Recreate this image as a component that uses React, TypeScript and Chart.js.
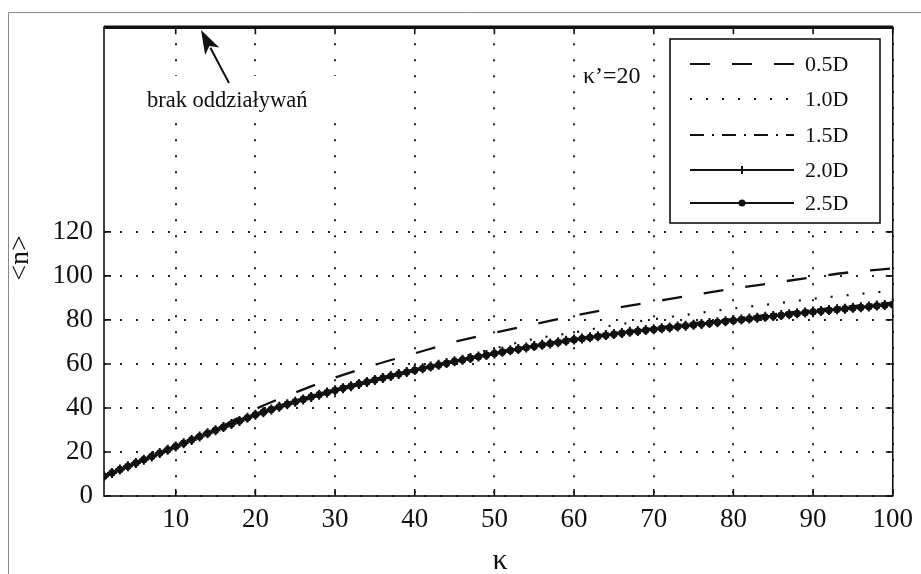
import React, { useEffect, useRef } from "react";
import { Chart, registerables } from "chart.js";
Chart.register(...registerables);

// ---- data ----
const KAPPA_DENSE: number[] = Array.from({ length: 100 }, (_, i) => i + 1);
const KAPPA_SPARSE = [1, 5, 10, 15, 20, 25, 30, 35, 40, 45, 50, 55, 60, 65, 70, 75, 80, 85, 90, 95, 100];

const N_05D = [9, 15, 22.5, 30.2, 39.5, 47, 53.8, 59.6, 64.8, 70, 74.2, 78, 81.9, 85.3, 88.3, 91.3, 94.2, 96.8, 99.4, 101.8, 103.4];
const N_10D = [9, 15, 22.5, 29.8, 37.2, 43.3, 48.6, 53.5, 58, 62.5, 67, 71.4, 74.3, 77.6, 80.3, 82.8, 85.2, 87.3, 89.6, 91.5, 93.3];
const N_15D = [9, 15, 22.5, 29.9, 37.0, 43.0, 48.3, 53.0, 57.5, 61.5, 65.2, 68.5, 71.6, 74.1, 76.4, 78.6, 80.6, 82.7, 84.6, 86.4, 88.0];

const N_20D = [
  9.0, 10.5, 12.0, 13.5, 15.0, 16.5, 18.0, 19.5, 21.0, 22.5,
  24.0, 25.5, 27.0, 28.5, 29.9, 31.3, 32.7, 34.1, 35.5, 36.9,
  38.1, 39.3, 40.5, 41.7, 42.8, 43.9, 45.0, 46.0, 47.0, 48.0,
  49.0, 49.9, 50.9, 51.8, 52.7, 53.6, 54.5, 55.4, 56.3, 57.2,
  58.0, 58.8, 59.6, 60.4, 61.2, 61.9, 62.7, 63.4, 64.1, 64.8,
  65.5, 66.2, 66.8, 67.5, 68.1, 68.7, 69.3, 69.9, 70.5, 71.1,
  71.6, 72.1, 72.6, 73.1, 73.6, 74.1, 74.6, 75.0, 75.4, 75.8,
  76.2, 76.6, 77.0, 77.4, 77.8, 78.2, 78.6, 79.0, 79.4, 79.8,
  80.2, 80.6, 81.0, 81.4, 81.8, 82.2, 82.6, 83.0, 83.4, 83.8,
  84.1, 84.5, 84.8, 85.1, 85.5, 85.8, 86.1, 86.5, 86.8, 87.1,
];
const N_25D = [
  9.0, 10.5, 12.0, 13.5, 15.0, 16.5, 18.0, 19.5, 21.0, 22.5,
  24.0, 25.5, 27.0, 28.5, 29.9, 31.3, 32.7, 34.1, 35.5, 36.9,
  38.1, 39.3, 40.5, 41.7, 42.8, 43.9, 45.0, 46.0, 47.0, 48.0,
  49.0, 49.9, 50.9, 51.8, 52.7, 53.6, 54.5, 55.4, 56.3, 57.1,
  57.9, 58.7, 59.5, 60.3, 61.1, 61.8, 62.6, 63.3, 64.0, 64.7,
  65.4, 66.1, 66.7, 67.4, 68.0, 68.6, 69.2, 69.8, 70.4, 71.0,
  71.5, 72.0, 72.5, 73.0, 73.5, 74.0, 74.5, 74.9, 75.3, 75.7,
  76.1, 76.5, 76.9, 77.3, 77.7, 78.1, 78.5, 78.9, 79.3, 79.7,
  80.1, 80.5, 80.9, 81.3, 81.7, 82.1, 82.5, 82.9, 83.3, 83.7,
  84.0, 84.4, 84.7, 85.0, 85.4, 85.7, 86.0, 86.4, 86.7, 87.0,
];

const KAPPA_LIMITS = [1, 100];
const N_NO_INTERACTION = [213, 213];

const X_TICKS = [10, 20, 30, 40, 50, 60, 70, 80, 90, 100];
const Y_TICKS = [0, 20, 40, 60, 80, 100, 120];
const Y_MIN = 0;
const Y_MAX = 213;

const SERIES_LABELS = ["0.5D", "1.0D", "1.5D", "2.0D", "2.5D"];
const ANNOT_NO_INT = "brak oddziaływań";
const ANNOT_K = "κ’=20";
const X_TITLE = "κ";
const Y_TITLE = "<n>";

const SERIF = "'Liberation Serif', 'Times New Roman', serif";
const INK = "#111";

const pts = (xs: number[], ys: number[]) => xs.map((x, i) => ({ x, y: ys[i] }));

const DASHES: number[][] = [[20, 22], [2, 14], [14, 8, 2, 8], [], []];

const overlayPlugin = {
  id: "overlay",
  beforeDatasetsDraw(chart: any) {
    const { ctx } = chart;
    ctx.save();
    ctx.fillStyle = "#fff";
    ctx.fillRect(140, 76, 205, 41);
    ctx.restore();
  },
  afterDraw(chart: any) {
    const { ctx, chartArea: a, scales } = chart;
    const xs = scales.x;
    const ys = scales.y;
    ctx.save();
    // outer frame
    ctx.strokeStyle = "#8a8a8a";
    ctx.lineWidth = 1;
    ctx.setLineDash([]);
    ctx.beginPath();
    ctx.moveTo(8.5, 574);
    ctx.lineTo(8.5, 12.5);
    ctx.lineTo(921, 12.5);
    ctx.stroke();

    // axes box
    ctx.strokeStyle = INK;
    ctx.lineWidth = 1.6;
    ctx.strokeRect(a.left, a.top, a.right - a.left, a.bottom - a.top);

    // inward ticks
    ctx.beginPath();
    X_TICKS.forEach((v) => {
      const px = xs.getPixelForValue(v);
      ctx.moveTo(px, a.bottom);
      ctx.lineTo(px, a.bottom - 7);
      ctx.moveTo(px, a.top);
      ctx.lineTo(px, a.top + 7);
    });
    Y_TICKS.forEach((v) => {
      const py = ys.getPixelForValue(v);
      ctx.moveTo(a.left, py);
      ctx.lineTo(a.left + 7, py);
      ctx.moveTo(a.right, py);
      ctx.lineTo(a.right - 7, py);
    });
    ctx.stroke();

    // axis titles
    ctx.fillStyle = INK;
    ctx.font = `28px ${SERIF}`;
    ctx.textAlign = "center";
    ctx.textBaseline = "middle";
    ctx.save();
    ctx.translate(21, 258);
    ctx.rotate(-Math.PI / 2);
    ctx.fillText(Y_TITLE, 0, 0);
    ctx.restore();
    ctx.font = `30px ${SERIF}`;
    ctx.fillText(X_TITLE, 500, 561);

    // annotation: arrow + text
    ctx.font = `22.5px ${SERIF}`;
    ctx.textAlign = "left";
    ctx.textBaseline = "alphabetic";
    ctx.fillText(ANNOT_NO_INT, 147, 107);
    const tipX = 201, tipY = 30, tailX = 229, tailY = 83;
    const dx = tipX - tailX, dy = tipY - tailY;
    const L = Math.hypot(dx, dy);
    const ux = dx / L, uy = dy / L;
    const hl = 24, hw = 8;
    const bx = tipX - ux * hl, by = tipY - uy * hl;
    ctx.strokeStyle = INK;
    ctx.lineWidth = 2;
    ctx.beginPath();
    ctx.moveTo(tailX, tailY);
    ctx.lineTo(bx + ux * 4, by + uy * 4);
    ctx.stroke();
    ctx.beginPath();
    ctx.moveTo(tipX, tipY);
    ctx.lineTo(bx - uy * hw, by + ux * hw);
    ctx.lineTo(bx + ux * 6, by + uy * 6);
    ctx.lineTo(bx + uy * hw, by - ux * hw);
    ctx.closePath();
    ctx.fill();

    ctx.font = `24px ${SERIF}`;
    ctx.fillText(ANNOT_K, 583, 83);

    // legend box
    const lx = 670, ly = 39, lw = 210, lh = 184;
    ctx.fillStyle = "#fff";
    ctx.fillRect(lx, ly, lw, lh);
    ctx.strokeStyle = INK;
    ctx.lineWidth = 1.6;
    ctx.strokeRect(lx, ly, lw, lh);
    const rows = [64, 99, 135, 170, 203];
    ctx.font = `22px ${SERIF}`;
    ctx.textBaseline = "middle";
    SERIES_LABELS.forEach((lab, i) => {
      const yy = rows[i];
      ctx.strokeStyle = INK;
      ctx.lineWidth = i < 3 ? 2.2 : 1.8;
      ctx.setLineDash(DASHES[i]);
      ctx.lineDashOffset = 0;
      ctx.beginPath();
      ctx.moveTo(690, yy);
      ctx.lineTo(794, yy);
      ctx.stroke();
      ctx.setLineDash([]);
      if (i === 3) {
        ctx.lineWidth = 2;
        ctx.beginPath();
        ctx.moveTo(742, yy - 4);
        ctx.lineTo(742, yy + 4);
        ctx.moveTo(738, yy);
        ctx.lineTo(746, yy);
        ctx.stroke();
      }
      if (i === 4) {
        ctx.fillStyle = INK;
        ctx.beginPath();
        ctx.arc(742, yy, 3.5, 0, Math.PI * 2);
        ctx.fill();
      }
      ctx.fillStyle = INK;
      ctx.fillText(lab, 805, yy + 1);
    });
    ctx.restore();
  },
};

export default function App() {
  const ref = useRef<HTMLCanvasElement>(null);
  useEffect(() => {
    if (!ref.current) return;
    const tickFont = { family: SERIF, size: 27 };
    const chart = new Chart(ref.current, {
      type: "line",
      data: {
        datasets: [
          {
            label: "none",
            data: pts(KAPPA_LIMITS, N_NO_INTERACTION),
            borderColor: INK,
            borderWidth: 3.5,
            pointRadius: 0,
            clip: false as any,
          },
          {
            label: SERIES_LABELS[0],
            data: pts(KAPPA_SPARSE, N_05D),
            borderColor: INK,
            borderWidth: 2.3,
            borderDash: DASHES[0],
            pointRadius: 0,
            cubicInterpolationMode: "monotone",
          },
          {
            label: SERIES_LABELS[1],
            data: pts(KAPPA_SPARSE, N_10D),
            borderColor: INK,
            borderWidth: 2.2,
            borderDash: DASHES[1],
            pointRadius: 0,
            cubicInterpolationMode: "monotone",
          },
          {
            label: SERIES_LABELS[2],
            data: pts(KAPPA_SPARSE, N_15D),
            borderColor: INK,
            borderWidth: 1.8,
            borderDash: DASHES[2],
            pointRadius: 0,
            cubicInterpolationMode: "monotone",
          },
          {
            label: SERIES_LABELS[3],
            data: pts(KAPPA_DENSE, N_20D),
            borderColor: INK,
            borderWidth: 2,
            pointStyle: "cross",
            pointRadius: 5,
            pointBorderWidth: 2,
            pointBorderColor: INK,
            pointBackgroundColor: INK,
          },
          {
            label: SERIES_LABELS[4],
            data: pts(KAPPA_DENSE, N_25D),
            borderColor: INK,
            borderWidth: 2,
            pointStyle: "circle",
            pointRadius: 3.4,
            pointBorderWidth: 1,
            pointBorderColor: INK,
            pointBackgroundColor: INK,
          },
        ] as any,
      },
      options: {
        animation: false,
        responsive: false,
        layout: { padding: { top: 22, right: 23, left: 0, bottom: 0 } },
        plugins: { legend: { display: false }, tooltip: { enabled: false } },
        scales: {
          x: {
            type: "linear",
            min: KAPPA_LIMITS[0],
            max: KAPPA_LIMITS[1],
            afterBuildTicks: (s: any) => {
              s.ticks = X_TICKS.map((v) => ({ value: v }));
            },
            afterFit: (s: any) => {
              s.height = 78;
            },
            ticks: {
              font: tickFont,
              color: INK,
              padding: 8,
              maxRotation: 0,
              autoSkip: false,
              callback: (v: any) => String(v),
            },
            grid: { color: "#222", lineWidth: 2, drawTicks: false },
            border: { display: false, dash: [2, 14] },
          },
          y: {
            type: "linear",
            min: Y_MIN,
            max: Y_MAX,
            afterBuildTicks: (s: any) => {
              s.ticks = Y_TICKS.map((v) => ({ value: v }));
            },
            afterFit: (s: any) => {
              s.width = 104;
            },
            ticks: {
              font: tickFont,
              color: INK,
              padding: 11,
              autoSkip: false,
              callback: (v: any) => String(v),
            },
            grid: { color: "#222", lineWidth: 2, drawTicks: false },
            border: { display: false, dash: [2, 14] },
          },
        },
      } as any,
      plugins: [overlayPlugin],
    });
    return () => chart.destroy();
  }, []);
  return (
    <div style={{ position: "fixed", left: 0, top: 0, width: 921, height: 574, background: "#fff" }}>
      <canvas ref={ref} width={921} height={574} style={{ display: "block" }} />
    </div>
  );
}
